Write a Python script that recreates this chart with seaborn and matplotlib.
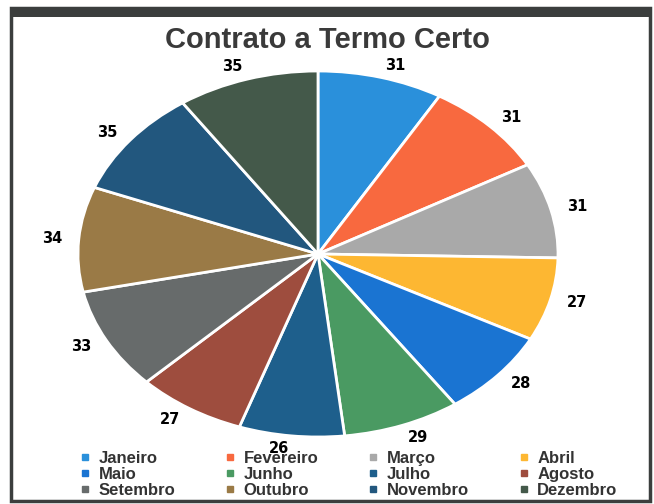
import matplotlib
matplotlib.use("Agg")
import matplotlib.pyplot as plt
from matplotlib.patches import Rectangle
from matplotlib.lines import Line2D
import seaborn as sns

meses = ["Janeiro", "Fevereiro", "Março", "Abril", "Maio", "Junho",
         "Julho", "Agosto", "Setembro", "Outubro", "Novembro", "Dezembro"]
valores = [31, 31, 31, 27, 28, 29, 26, 27, 33, 34, 35, 35]
cores = ["#2a90db", "#f8693f", "#a9a9a9", "#fdb732", "#1a74d2", "#4a9a62",
         "#1e5f8c", "#9e4d3e", "#676b6b", "#9a7a46", "#22577e", "#44594a"]

W, H = 654, 504


def grafico_pizza():
    sns.set_theme(style="white")
    plt.rcParams["font.family"] = ["DejaVu Sans"]
    fig = plt.figure(figsize=(W / 100, H / 100), dpi=100)
    fig.patch.set_facecolor("white")

    # pie is an ellipse: centre (318, 254) px, radii 240 x 183 px
    cx, cy, rx, ry = 318, 254, 240, 183
    ax = fig.add_axes([(cx - rx) / W, (H - cy - ry) / H, 2 * rx / W, 2 * ry / H])
    ax.pie(
        valores,
        labels=[str(v) for v in valores],
        colors=cores,
        startangle=90,
        counterclock=False,
        labeldistance=1.07,
        wedgeprops=dict(edgecolor="white", linewidth=2),
        textprops=dict(fontsize=10.5, fontweight="bold", color="black"),
    )
    ax.set_aspect("auto")
    ax.set_xlim(-1, 1)
    ax.set_ylim(-1, 1)
    ax.axis("off")

    fig.text(0.50, 1 - 40 / H, "Contrato a Termo Certo", ha="center", va="center",
             fontsize=21, fontweight="bold", color="#3a3a3a",
             family=["Liberation Sans", "DejaVu Sans"])

    handles = [Line2D([0], [0], marker="s", linestyle="", markersize=5,
                      markerfacecolor=c, markeredgecolor=c) for c in cores]
    # row-wise ordering with 4 columns
    order = [0, 4, 8, 1, 5, 9, 2, 6, 10, 3, 7, 11]
    leg = fig.legend([handles[i] for i in order], [meses[i] for i in order],
                     ncol=4, loc="lower left", bbox_to_anchor=(72 / W, -2 / H),
                     frameon=False, borderpad=0, handlelength=0.6,
                     handletextpad=0.5, columnspacing=3.0, labelspacing=0.05,
                     prop=dict(family=["Liberation Sans", "DejaVu Sans"],
                               weight="bold", size=12))
    for t in leg.get_texts():
        t.set_color("#333333")

    # scanned frame
    cor = "#3b3e3d"
    fig.patches.append(Rectangle((11 / W, 1 - 501 / H), 639 / W, 493 / H,
                                 transform=fig.transFigure, fill=False,
                                 edgecolor=cor, linewidth=2.5))
    fig.patches.append(Rectangle((11 / W, 1 - 17 / H), 639 / W, 9 / H,
                                 transform=fig.transFigure, facecolor=cor,
                                 edgecolor="none"))

    fig.savefig("out.png", dpi=100)
    plt.close(fig)


if __name__ == "__main__":
    grafico_pizza()
